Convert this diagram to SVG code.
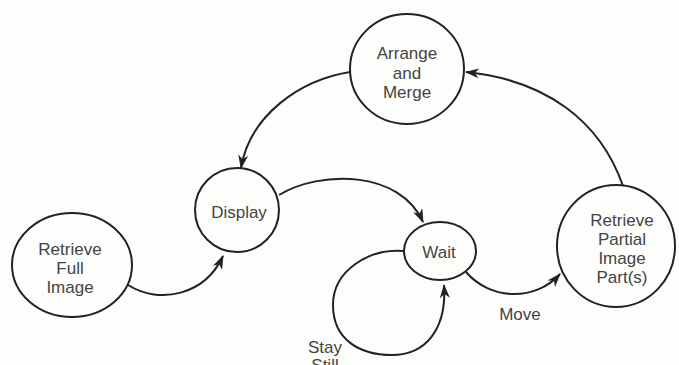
<svg xmlns="http://www.w3.org/2000/svg" width="679" height="365" viewBox="0 0 679 365">
  <style>
    .node { fill: none; stroke: #222; stroke-width: 2; }
    .label { font-family: "Liberation Sans", Arial, sans-serif; font-size: 17px; fill: #444; text-anchor: middle; }
    .edge { fill: none; stroke: #222; stroke-width: 2; marker-end: url(#head); }
  </style>
  <defs>
    <marker id="head" viewBox="0 0 14 10" refX="13" refY="5" markerWidth="14" markerHeight="10" markerUnits="userSpaceOnUse" orient="auto">
      <path d="M0,0 L14,5 L0,10 L4,5 z" fill="#222"/>
    </marker>
  </defs>
  <rect width="679" height="365" fill="#fdfdfb"/>

  <!-- states -->
  <g id="arrange-merge">
    <ellipse class="node" cx="407" cy="69" rx="57" ry="55"/>
    <text class="label" x="407" y="59">Arrange</text>
    <text class="label" x="407" y="79">and</text>
    <text class="label" x="407" y="98">Merge</text>
  </g>
  <g id="display">
    <ellipse class="node" cx="237" cy="210" rx="42" ry="42"/>
    <text class="label" x="239" y="218">Display</text>
  </g>
  <g id="retrieve-full">
    <ellipse class="node" cx="72" cy="265" rx="60" ry="52"/>
    <text class="label" x="70" y="255">Retrieve</text>
    <text class="label" x="70" y="274">Full</text>
    <text class="label" x="70" y="293">Image</text>
  </g>
  <g id="wait">
    <ellipse class="node" cx="440" cy="251" rx="36" ry="29"/>
    <text class="label" x="439" y="258">Wait</text>
  </g>
  <g id="retrieve-partial">
    <ellipse class="node" cx="616" cy="246" rx="59" ry="61"/>
    <text class="label" x="622" y="226">Retrieve</text>
    <text class="label" x="622" y="245">Partial</text>
    <text class="label" x="622" y="264">Image</text>
    <text class="label" x="622" y="283">Part(s)</text>
  </g>

  <!-- transitions -->
  <g id="connectors">
    <path class="edge" d="M350,72 C300,80 250,115 241,168"/>
    <path class="edge" d="M279,195 C320,170 400,170 423,222"/>
    <path class="edge" d="M128,285 C160,305 205,295 223,256"/>
    <path class="edge" d="M404,251 C370,248 333,270 333,305 C333,340 360,355 392,355 C425,355 447,330 444,285"/>
    <path class="edge" d="M466,272 C490,300 535,302 560,274"/>
    <path class="edge" d="M623,186 C600,120 545,80 466,72"/>
    <text class="label" x="520" y="320">Move</text>
    <text class="label" x="325" y="353">Stay</text>
    <text class="label" x="325" y="371">Still</text>
  </g>
</svg>
